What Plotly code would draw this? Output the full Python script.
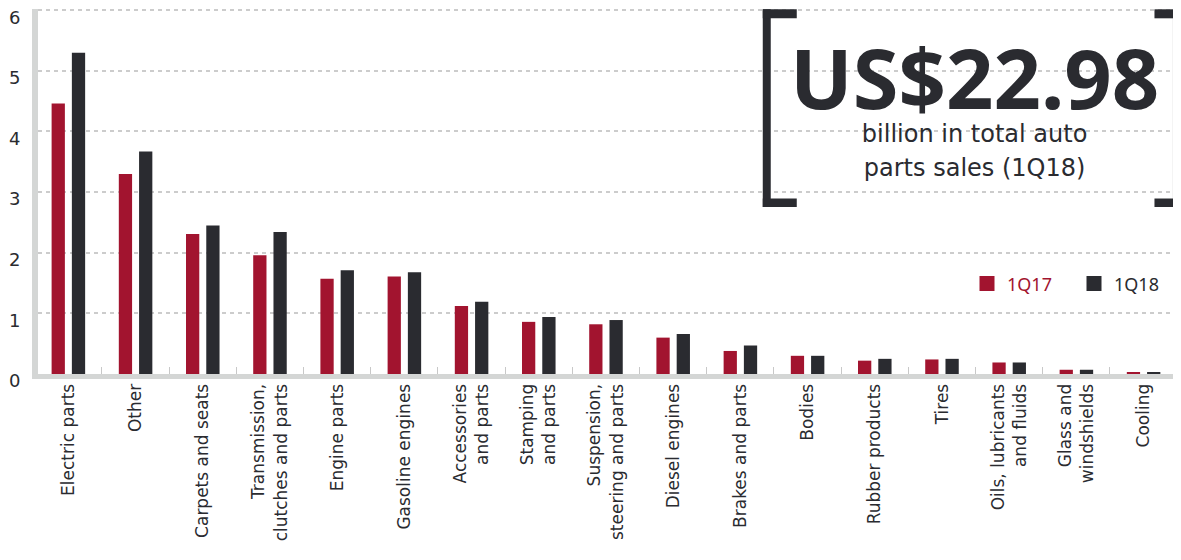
import plotly.graph_objects as go

categories = [
    "Electric parts", "Other", "Carpets and seats", "Transmission,<br>clutches and parts",
    "Engine parts", "Gasoline engines", "Accessories<br>and parts", "Stamping<br>and parts",
    "Suspension,<br>steering and parts", "Diesel engines", "Brakes and parts", "Bodies",
    "Rubber products", "Tires", "Oils, lubricants<br>and fluids", "Glass and<br>windshields", "Cooling",
]
sales_1q17 = [4.46, 3.30, 2.31, 1.96, 1.57, 1.61, 1.12, 0.86, 0.82, 0.60, 0.38, 0.30, 0.22, 0.24, 0.19, 0.07, 0.02]
sales_1q18 = [5.30, 3.67, 2.45, 2.34, 1.71, 1.68, 1.19, 0.94, 0.89, 0.66, 0.47, 0.30, 0.25, 0.25, 0.19, 0.07, 0.02]
series_names = ["1Q17", "1Q18"]
y_ticks = [0, 1, 2, 3, 4, 5, 6]
headline = "US$22.98"
subline1 = "billion in total auto"
subline2 = "parts sales (1Q18)"

RED = "#a2142f"
DARK = "#2a2b30"
AXIS_GRAY = "#d4d6d5"
TICK_FONT = "DejaVu Sans"
HEAD_FONT = "Noto Sans"

fig = go.Figure()
for name, vals, col in [(series_names[0], sales_1q17, RED), (series_names[1], sales_1q18, DARK)]:
    fig.add_trace(go.Bar(
        x=categories, y=vals, name=name, showlegend=False,
        marker=dict(color=col, line=dict(width=0)),
    ))
    # legend entry with a larger square swatch
    fig.add_trace(go.Scatter(
        x=[None], y=[None], mode="markers", name=f'<span style="color:{col}">{name}</span>',
        marker=dict(symbol="square", size=15, color=col, line=dict(width=0)),
        showlegend=True, hoverinfo="skip",
    ))

def rect(x0, x1, y0, y1):
    return dict(type="rect", xref="paper", yref="paper", x0=x0, x1=x1, y0=y0, y1=y1,
                fillcolor=DARK, line=dict(width=0), layer="above")

shapes = [
    rect(0.6352, 0.6422, 0.4575, 0.9992),
    rect(0.6352, 0.6650, 0.9745, 0.9992),
    rect(0.6352, 0.6650, 0.4575, 0.4808),
    rect(0.9947, 1.0030, 0.4575, 0.9992),
    rect(0.9785, 1.0030, 0.9745, 0.9992),
    rect(0.9785, 1.0030, 0.4575, 0.4808),
]

callout = (
    f'<span style="font-family:{HEAD_FONT};font-size:83px;font-weight:700">{headline}</span>'
    f'<br><span style="font-size:24px">{subline1}</span>'
    f'<br><span style="font-size:24px">{subline2}</span>'
)
annotations = [
    dict(text=callout, xref="paper", yref="paper", x=0.8209, y=0.9753, xanchor="center", yanchor="top",
         align="center", showarrow=False, font=dict(family=TICK_FONT, size=25.6, color=DARK)),
]

# the page body adds an 8px offset, so the figure is 8px smaller and margins compensate
fig.update_layout(
    width=1173, height=552,
    margin=dict(l=30, r=2, t=1, b=186, autoexpand=False),
    paper_bgcolor="white", plot_bgcolor="white",
    barmode="group", bargap=0.397, bargroupgap=0.345,
    font=dict(family=TICK_FONT, color=DARK),
    showlegend=True,
    legend=dict(orientation="h", x=0.8142, y=0.247, xanchor="left", yanchor="middle",
                font=dict(size=18, family=HEAD_FONT), bgcolor="rgba(0,0,0,0)",
                traceorder="normal", itemclick=False, entrywidth=62),
    shapes=shapes,
    annotations=annotations,
)
fig.update_xaxes(
    type="category", range=[-0.452, 16.527],
    showline=True, linewidth=5, linecolor=AXIS_GRAY,
    ticks="inside", tickson="boundaries", ticklen=7, tickwidth=1, tickcolor="#c8c8c8",
    tickangle=-90, tickfont=dict(size=17, family=TICK_FONT, color=DARK),
    showgrid=False, ticklabelstandoff=-2,
)
fig.update_yaxes(
    range=[0, 6.02], tickvals=y_ticks, ticktext=[str(v) for v in y_ticks],
    showline=True, linewidth=6, linecolor=AXIS_GRAY,
    showgrid=True, gridcolor="#cccccc", gridwidth=1.5, griddash="4px,4px",
    zeroline=False, ticks="", tickfont=dict(size=18, family=TICK_FONT, color=DARK),
    ticklabelshift=7, ticklabelstandoff=8, ticklabeloverflow="allow",
)

fig.write_html("out.html")
